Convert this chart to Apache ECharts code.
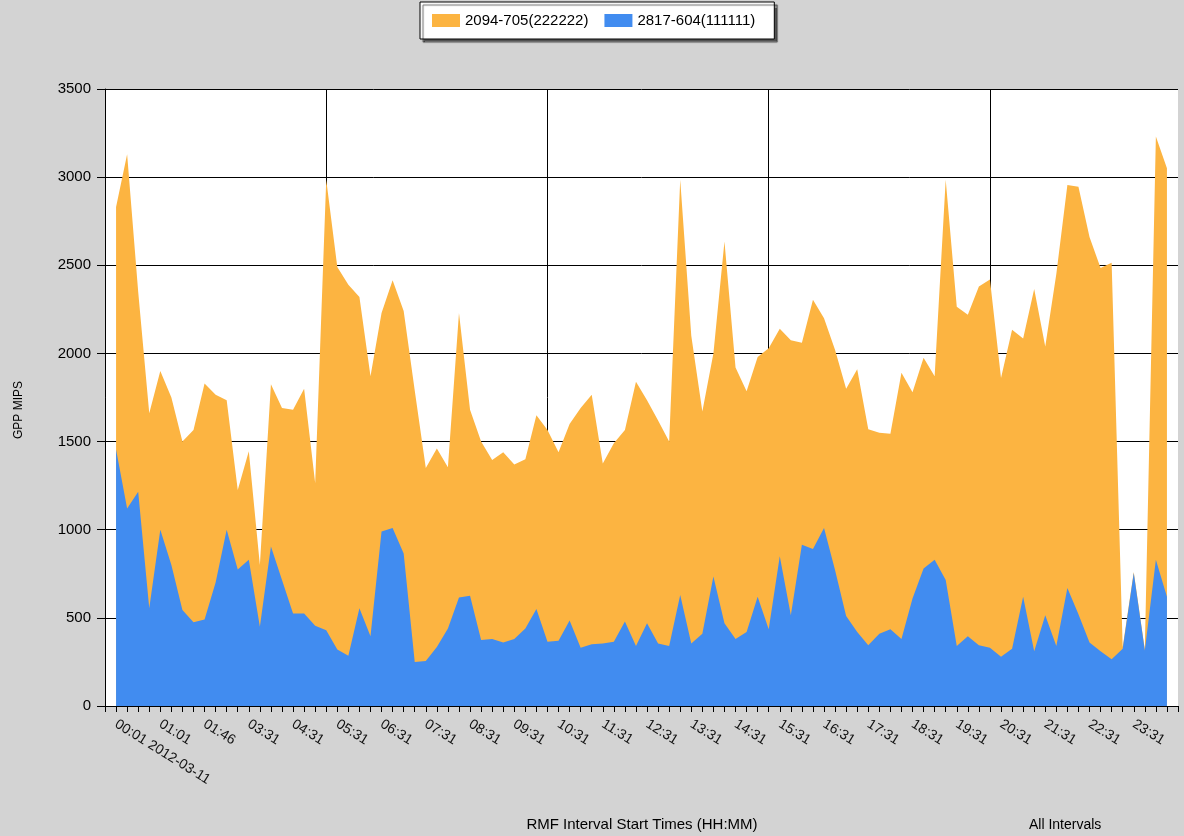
<!DOCTYPE html>
<html>
<head>
<meta charset="utf-8">
<script src="https://cdn.jsdelivr.net/npm/echarts@6/dist/echarts.min.js"></script>
<style>
  html, body { margin: 0; padding: 0; background: #d3d3d3; }
  #chart { width: 1184px; height: 836px; }
</style>
</head>
<body>
<div id="chart"></div>
<script>
// tick labels, one every 4 intervals
var tickLabels = ['00:01 2012-03-11', '01:01', '01:46', '03:31', '04:31', '05:31', '06:31',
  '07:31', '08:31', '09:31', '10:31', '11:31', '12:31', '13:31', '14:31', '15:31', '16:31',
  '17:31', '18:31', '19:31', '20:31', '21:31', '22:31', '23:31'];

// top of the orange area (2094-705 drawn behind)
var lpar222222 = [2830, 3130, 2350, 1660, 1900, 1750, 1500, 1565, 1830, 1765, 1735, 1225,
  1445, 800, 1825, 1690, 1680, 1800, 1265, 2985, 2490, 2390, 2320, 1870,
  2230, 2415, 2240, 1790, 1350, 1460, 1355, 2230, 1680, 1500, 1395, 1440,
  1370, 1400, 1650, 1565, 1440, 1600, 1690, 1765, 1375, 1490, 1565, 1840,
  1735, 1620, 1500, 2985, 2100, 1670, 2000, 2635, 1920, 1785, 1980, 2030,
  2140, 2075, 2060, 2305, 2200, 2020, 1800, 1910, 1570, 1550, 1545, 1890,
  1780, 1975, 1870, 2985, 2265, 2220, 2380, 2420, 1860, 2135, 2085, 2365,
  2040, 2450, 2955, 2945, 2660, 2485, 2515, 335, 760, 320, 3230, 3050];

// blue area (2817-604)
var lpar111111 = [1455, 1120, 1215, 555, 1000, 800, 545, 475, 490, 700, 1000, 775,
  830, 450, 905, 715, 525, 525, 455, 430, 320, 285, 555, 395,
  990, 1010, 865, 250, 255, 335, 440, 615, 625, 375, 380, 360,
  380, 440, 550, 365, 370, 485, 330, 350, 355, 365, 480, 340,
  470, 355, 340, 630, 355, 410, 735, 470, 380, 420, 620, 435,
  850, 515, 915, 890, 1010, 770, 510, 420, 345, 410, 435, 380,
  610, 780, 830, 715, 340, 395, 345, 330, 280, 325, 620, 310,
  515, 340, 670, 520, 360, 310, 265, 325, 755, 315, 830, 620];

// axis runs one slot past the data on both ends, like the original
var cats = ['start'];
for (var i = 1; i <= lpar111111.length; i++) cats.push('p' + i);
cats.push('end');

function pad(arr) {
  return [null].concat(arr, [null]);
}

var chart = echarts.init(document.getElementById('chart'));
var font = 'Liberation Sans, Arial, sans-serif';

chart.setOption({
  backgroundColor: '#d3d3d3',
  animation: false,
  textStyle: {fontFamily: font},
  legend: {
    left: 420, top: 2,
    padding: [11, 19, 11, 12],
    itemWidth: 28, itemHeight: 13, itemGap: 16,
    icon: 'rect',
    backgroundColor: '#fff',
    borderColor: '#000', borderWidth: 1, borderRadius: 0,
    shadowColor: 'rgba(0,0,0,0.6)', shadowBlur: 1,
    shadowOffsetX: 3, shadowOffsetY: 3,
    textStyle: {fontSize: 15, color: '#000', fontFamily: font},
    data: ['2094-705(222222)', '2817-604(111111)']
  },
  title: {
    text: 'All Intervals',
    left: 1029, top: 818, padding: 0,
    textStyle: {fontSize: 14, fontWeight: 'normal', color: '#000', fontFamily: font}
  },
  graphic: [{
    type: 'text',
    x: 19, y: 410,
    rotation: Math.PI / 2,
    style: {
      text: 'GPP MIPS', fill: '#000', font: '12px ' + font,
      textAlign: 'center', textVerticalAlign: 'middle'
    }
  }, {
    type: 'text',
    x: 642, y: 825,
    style: {
      text: 'RMF Interval Start Times (HH:MM)', fill: '#000', font: '15px ' + font,
      textAlign: 'center', textVerticalAlign: 'middle'
    }
  }],
  grid: {
    left: 105, top: 89, right: 6, bottom: 130,
    containLabel: false,
    outerBoundsMode: 'none',
    show: true, backgroundColor: '#fff', borderWidth: 0
  },
  xAxis: {
    type: 'category',
    data: cats,
    boundaryGap: false,
    axisLine: {lineStyle: {color: '#000', width: 1}},
    axisTick: {show: true, interval: 0, length: 6, lineStyle: {color: '#000'}},
    axisLabel: {
      interval: function(idx) {
        return idx >= 1 && idx <= 93 && (idx - 1) % 4 === 0;
      },
      formatter: function(val, idx) {
        return tickLabels[(idx - 1) / 4];
      },
      rotate: -32,
      margin: 17,
      fontSize: 14,
      color: '#111'
    },
    splitLine: {
      show: true,
      interval: function(idx) { return idx % 20 === 0; },
      lineStyle: {color: '#000', width: 1}
    }
  },
  yAxis: {
    type: 'value',
    min: 0, max: 3500, interval: 500,
    axisLine: {show: true, lineStyle: {color: '#000', width: 1}},
    axisTick: {show: true, length: 8, lineStyle: {color: '#000'}},
    axisLabel: {
      fontSize: 15, color: '#000', margin: 14,
      formatter: function(v) { return String(v); }
    },
    splitLine: {show: true, lineStyle: {color: '#000', width: 1}}
  },
  series: [{
    name: '2094-705(222222)',
    type: 'line',
    data: pad(lpar222222),
    showSymbol: false,
    color: '#FCB441',
    lineStyle: {width: 0},
    areaStyle: {color: '#FCB441', opacity: 1}
  }, {
    name: '2817-604(111111)',
    type: 'line',
    data: pad(lpar111111),
    showSymbol: false,
    color: '#418CF0',
    lineStyle: {width: 0},
    areaStyle: {color: '#418CF0', opacity: 1}
  }]
});
</script>
</body>
</html>
